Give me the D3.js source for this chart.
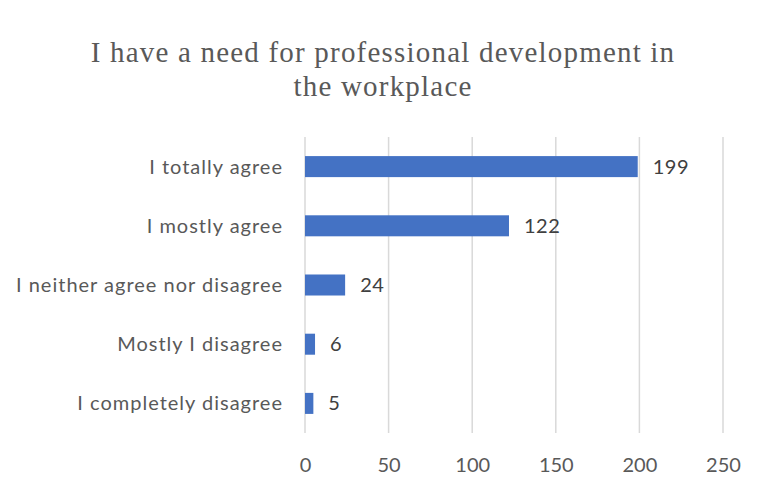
<!DOCTYPE html>
<html>
<head>
<meta charset="utf-8">
<script src="https://cdn.jsdelivr.net/npm/d3@7"></script>
<style>
  html, body { margin: 0; padding: 0; background: #fff; }
  svg { display: block; }
</style>
</head>
<body>
<svg id="chart" width="763" height="487"></svg>
<script>
// Survey responses, listed top to bottom
const categories = [
  "I totally agree",
  "I mostly agree",
  "I neither agree nor disagree",
  "Mostly I disagree",
  "I completely disagree"
];
const counts = [199, 122, 24, 6, 5];
const xTicks = [0, 50, 100, 150, 200, 250];
const titleLines = [
  "I have a need for professional development in",
  "the workplace"
];

const svg = d3.select("#chart");
const plot = { left: 305, right: 723, top: 137, bottom: 433 };

const x = d3.scaleLinear().domain([0, 250]).range([plot.left, plot.right]);
const y = d3.scaleBand()
  .domain(categories)
  .range([plot.top, plot.bottom])
  .paddingInner(0.645)
  .paddingOuter(0.3225);

// Title, wrapped over two lines
svg.append("g")
  .selectAll("text")
  .data(titleLines)
  .join("text")
  .attr("x", 383)
  .attr("y", (d, i) => 62 + i * 34)
  .attr("text-anchor", "middle")
  .attr("font-family", "'Liberation Serif', 'Times New Roman', serif")
  .attr("font-size", 29)
  .attr("letter-spacing", 1.2)
  .attr("fill", "#595959")
  .text(d => d);

// Vertical gridlines
svg.append("g")
  .selectAll("line")
  .data(xTicks)
  .join("line")
  .attr("x1", d => x(d))
  .attr("x2", d => x(d))
  .attr("y1", plot.top)
  .attr("y2", plot.bottom)
  .attr("stroke", "#d9d9d9")
  .attr("stroke-width", 1.5);

// X axis labels
const xAxis = d3.axisBottom(x).tickValues(xTicks).tickSize(0).tickPadding(0);
const gx = svg.append("g")
  .attr("transform", `translate(0,${plot.bottom})`)
  .call(xAxis);
gx.select(".domain").remove();
gx.selectAll("text")
  .attr("dy", null)
  .attr("y", 39)
  .attr("font-family", "Lato, 'Open Sans', sans-serif")
  .attr("font-size", 20)
  .attr("fill", "#595959");

// Category labels
const yAxis = d3.axisLeft(y).tickSize(0).tickPadding(0);
const gy = svg.append("g")
  .attr("transform", `translate(283,0)`)
  .call(yAxis);
gy.select(".domain").remove();
gy.selectAll("text")
  .attr("dy", "0.35em")
  .attr("font-family", "Lato, 'Open Sans', sans-serif")
  .attr("font-size", 20)
  .attr("letter-spacing", 1)
  .attr("fill", "#595959");

// Bars
svg.append("g")
  .selectAll("rect")
  .data(categories)
  .join("rect")
  .attr("x", x(0))
  .attr("y", d => y(d))
  .attr("width", (d, i) => x(counts[i]) - x(0))
  .attr("height", y.bandwidth())
  .attr("fill", "#4472c4");

// Value labels
svg.append("g")
  .selectAll("text")
  .data(categories)
  .join("text")
  .attr("x", (d, i) => x(counts[i]) + 15)
  .attr("y", d => y(d) + y.bandwidth() / 2)
  .attr("dy", "0.35em")
  .attr("font-family", "Lato, 'Open Sans', sans-serif")
  .attr("font-size", 20)
  .attr("letter-spacing", 0.5)
  .attr("fill", "#404040")
  .text((d, i) => counts[i]);
</script>
</body>
</html>
